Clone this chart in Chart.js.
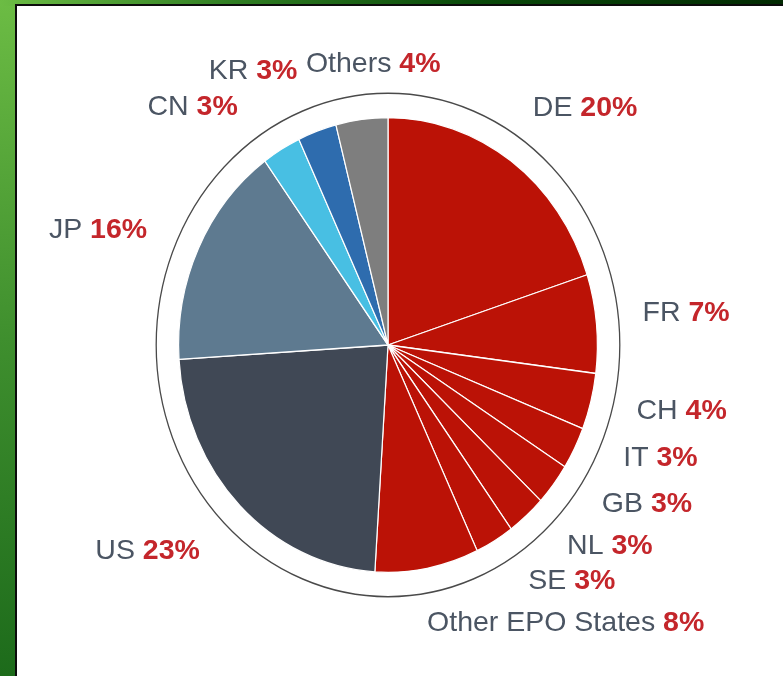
<!DOCTYPE html>
<html>
<head>
<meta charset="utf-8">
<script src="https://cdn.jsdelivr.net/npm/chart.js@4/dist/chart.umd.min.js"></script>
<style>
  html, body { margin: 0; padding: 0; width: 783px; height: 676px; overflow: hidden; }
  body { position: relative; background: linear-gradient(to bottom, #6cbc44 0%, #3f8f2e 50%, #1d6b1b 100%); }
  #topstrip { position: absolute; left: 0; top: 0; width: 783px; height: 6px;
    background: linear-gradient(to right, #6cbc44 0%, #2f7d22 30%, #0a4a0a 60%, #022a02 100%); }
  #panel { position: absolute; left: 15px; top: 4px; right: 0; bottom: 0; background: #fff;
    border-left: 2px solid #0c0c0c; border-top: 2px solid #0c0c0c; }
  #c { position: absolute; left: 0; top: 0; }
</style>
</head>
<body>
<div id="topstrip"></div>
<div id="panel"></div>
<canvas id="c" width="783" height="676"></canvas>
<script>
// ---- data ----
const categories = ['DE', 'FR', 'CH', 'IT', 'GB', 'NL', 'SE', 'Other EPO States', 'US', 'JP', 'CN', 'KR', 'Others'];
const shares = [20, 7, 4, 3, 3, 3, 3, 8, 23, 16, 3, 3, 4];
const shareLabels = ['20%', '7%', '4%', '3%', '3%', '3%', '3%', '8%', '23%', '16%', '3%', '3%', '4%'];

// ---- style ----
const sliceColors = ['#bb1206', '#bb1206', '#bb1206', '#bb1206', '#bb1206', '#bb1206', '#bb1206', '#bb1206',
  '#404855', '#5e7a90', '#48bfe3', '#2e6cae', '#7e7e7e'];
// small label nudges (px) applied after radial placement, to avoid collisions
const labelNudgeX = [-9, -6, -5, 2, 7, 6, 7, -10, -3, -4, -17, -2, 18];
const labelNudgeY = [-7, -5, -5, -16, -15, -12, -8, -1, 5, 6, 7, -6, 1];
const Y_STRETCH = 228 / 210;
const LABEL_FACTOR = 1.25;
const FONT = '"Liberation Sans", Arial, sans-serif';
const FONT_SIZE = 28.5;

const ellipsePlugin = {
  id: 'ellipse',
  beforeDatasetsDraw(chart) {
    const meta = chart.getDatasetMeta(0);
    const a = meta.data[0];
    const ctx = chart.ctx;
    ctx.save();
    ctx.translate(a.x, a.y);
    ctx.scale(1, Y_STRETCH);
    ctx.translate(-a.x, -a.y);
    ctx.save();
    ctx.beginPath();
    ctx.arc(a.x, a.y, a.outerRadius * 1.107, 0, Math.PI * 2);
    ctx.lineWidth = 1.3;
    ctx.strokeStyle = '#4a4a4a';
    ctx.stroke();
    ctx.restore();
  },
  afterDatasetsDraw(chart) {
    chart.ctx.restore();
  },
  afterDraw(chart) {
    const meta = chart.getDatasetMeta(0);
    const ctx = chart.ctx;
    ctx.save();
    ctx.textBaseline = 'middle';
    meta.data.forEach((arc, i) => {
      const mid = (arc.startAngle + arc.endAngle) / 2;
      const R = arc.outerRadius * LABEL_FACTOR;
      const px = arc.x + R * Math.cos(mid);
      const py = arc.y + R * Y_STRETCH * Math.sin(mid) + labelNudgeY[i];
      const name = categories[i] + ' ';
      const pct = shareLabels[i];
      ctx.font = FONT_SIZE + 'px ' + FONT;
      const wName = ctx.measureText(name).width;
      ctx.font = 'bold ' + FONT_SIZE + 'px ' + FONT;
      const wPct = ctx.measureText(pct).width;
      const w = wName + wPct;
      const c = Math.cos(mid), s = Math.sin(mid);
      let left;
      if (Math.abs(c) < 0.2 && s < 0) left = px - w / 2;
      else if (c >= 0) left = px;
      else left = px - w;
      left += labelNudgeX[i];
      ctx.textAlign = 'left';
      ctx.font = FONT_SIZE + 'px ' + FONT;
      ctx.fillStyle = '#4b5563';
      ctx.fillText(name, left, py);
      ctx.font = 'bold ' + FONT_SIZE + 'px ' + FONT;
      ctx.fillStyle = '#c4262b';
      ctx.fillText(pct, left + wName, py);
    });
    ctx.restore();
  }
};

new Chart(document.getElementById('c'), {
  type: 'pie',
  data: {
    labels: categories,
    datasets: [{
      data: shares,
      backgroundColor: sliceColors,
      borderColor: '#ffffff',
      borderWidth: 1.2,
      clip: false
    }]
  },
  options: {
    responsive: false,
    animation: false,
    events: [],
    layout: { padding: { left: 178, right: 185, top: 135, bottom: 121 } },
    plugins: { legend: { display: false }, tooltip: { enabled: false } }
  },
  plugins: [ellipsePlugin]
});
</script>
</body>
</html>
